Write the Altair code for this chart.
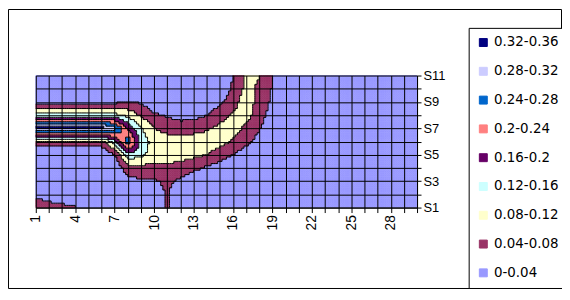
import numpy as np
import pandas as pd
import altair as alt

categories = list(range(1, 31))
series_nums = list(range(1, 12))

# grid values, one list per series (30 categories each)
S11 = [0, 0, 0, 0, 0, 0, 0, 0, 0, 0, 0, 0, 0, 0, 0, 0.04, 0.085, 0.082, 0.04, 0, 0, 0, 0, 0, 0, 0, 0, 0, 0, 0]
S10 = [0, 0, 0, 0, 0, 0, 0, 0, 0, 0, 0, 0, 0, 0, 0.005, 0.048, 0.09, 0.075, 0.037, 0, 0, 0, 0, 0, 0, 0, 0, 0, 0, 0]
S9 = [0.03, 0.03, 0.03, 0.03, 0.03, 0.03, 0.03, 0.042, 0.036, 0.015, 0.005, 0, 0, 0.01, 0.03, 0.065, 0.1, 0.068, 0.03, 0, 0, 0, 0, 0, 0, 0, 0, 0, 0, 0]
S8 = [0.14, 0.14, 0.14, 0.14, 0.14, 0.14, 0.13, 0.11, 0.075, 0.045, 0.035, 0.025, 0.028, 0.038, 0.065, 0.085, 0.095, 0.06, 0.02, 0, 0, 0, 0, 0, 0, 0, 0, 0, 0, 0]
S7 = [0.34, 0.34, 0.34, 0.34, 0.34, 0.34, 0.30, 0.19, 0.125, 0.08, 0.07, 0.06, 0.065, 0.075, 0.09, 0.1, 0.07, 0.043, 0.005, 0, 0, 0, 0, 0, 0, 0, 0, 0, 0, 0]
S6 = [0.06, 0.06, 0.06, 0.06, 0.06, 0.06, 0.15, 0.27, 0.15, 0.1, 0.095, 0.095, 0.1, 0.1, 0.095, 0.075, 0.05, 0.025, 0, 0, 0, 0, 0, 0, 0, 0, 0, 0, 0, 0]
S5 = [0, 0, 0, 0, 0, 0, 0.035, 0.15, 0.13, 0.1, 0.1, 0.095, 0.09, 0.08, 0.06, 0.04, 0.02, 0, 0, 0, 0, 0, 0, 0, 0, 0, 0, 0, 0, 0]
S4 = [0, 0, 0, 0, 0, 0, 0.01, 0.06, 0.065, 0.07, 0.07, 0.065, 0.05, 0.035, 0.02, 0.01, 0, 0, 0, 0, 0, 0, 0, 0, 0, 0, 0, 0, 0, 0]
S3 = [0, 0, 0, 0, 0, 0, 0, 0.025, 0.035, 0.035, 0.05, 0.03, 0.01, 0, 0, 0, 0, 0, 0, 0, 0, 0, 0, 0, 0, 0, 0, 0, 0, 0]
S2 = [0.03, 0.015, 0, 0, 0, 0, 0, 0, 0, 0.01, 0.045, 0, 0, 0, 0, 0, 0, 0, 0, 0, 0, 0, 0, 0, 0, 0, 0, 0, 0, 0]
S1 = [0.065, 0.06, 0.055, 0.045, 0.01, 0, 0, 0, 0, 0, 0.045, 0, 0, 0, 0, 0, 0, 0, 0, 0, 0, 0, 0, 0, 0, 0, 0, 0, 0, 0]

band_labels = ["0-0.04", "0.04-0.08", "0.08-0.12", "0.12-0.16", "0.16-0.2",
               "0.2-0.24", "0.24-0.28", "0.28-0.32", "0.32-0.36"]
band_colors = ["#9999FF", "#993366", "#FFFFCC", "#CCFFFF", "#660066",
               "#FF8080", "#0066CC", "#CCCCFF", "#000080"]
band_step = 0.04

# ---- render the surface as fine cells (bilinear shading of the grid) ----
Z = np.array([S1, S2, S3, S4, S5, S6, S7, S8, S9, S10, S11], dtype=float)
n = 6
nx, ny = (len(categories) - 1) * n, (len(series_nums) - 1) * n
xc = 1 + (np.arange(nx) + 0.5) / n
yc = 1 + (np.arange(ny) + 0.5) / n
XX, YY = np.meshgrid(xc, yc)
j = np.clip(np.floor(XX).astype(int) - 1, 0, len(categories) - 2)
i = np.clip(np.floor(YY).astype(int) - 1, 0, len(series_nums) - 2)
fx = XX - 1 - j
fy = YY - 1 - i
V = (Z[i, j] * (1 - fx) * (1 - fy) + Z[i, j + 1] * fx * (1 - fy)
     + Z[i + 1, j] * (1 - fx) * fy + Z[i + 1, j + 1] * fx * fy)
K = np.clip(np.floor(V / band_step + 1e-9).astype(int), 0, len(band_labels) - 1)

cells = pd.DataFrame({
    "x0": (1 + np.arange(nx) / n)[None, :].repeat(ny, 0).ravel(),
    "x1": (1 + (np.arange(nx) + 1) / n)[None, :].repeat(ny, 0).ravel(),
    "y0": (1 + np.arange(ny) / n)[:, None].repeat(nx, 1).ravel(),
    "y1": (1 + (np.arange(ny) + 1) / n)[:, None].repeat(nx, 1).ravel(),
    "band": [band_labels[k] for k in K.ravel()],
})

edges = []
for r in range(ny):
    for c in range(nx - 1):
        if K[r, c] != K[r, c + 1]:
            xe = 1 + (c + 1) / n
            edges.append((xe, xe, 1 + r / n, 1 + (r + 1) / n))
for r in range(ny - 1):
    for c in range(nx):
        if K[r, c] != K[r + 1, c]:
            ye = 1 + (r + 1) / n
            edges.append((1 + c / n, 1 + (c + 1) / n, ye, ye))
edge_df = pd.DataFrame(edges, columns=["x0", "x1", "y0", "y1"])

dom = band_labels[::-1]
rng = band_colors[::-1]

W, H = 384, 133

x_axis = alt.Axis(values=categories, title=None,
                  labelExpr="(datum.value - 1) % 3 == 0 ? datum.label : ''",
                  labelAngle=270, labelOverlap=False, grid=True,
                  gridColor="black", gridOpacity=1, gridWidth=1,
                  domainColor="black", tickColor="black", tickSize=5,
                  labelPadding=2, labelFont="Liberation Sans",
                  labelFontSize=14, labelColor="black", zindex=1)
y_axis = alt.Axis(orient="right", values=series_nums, title=None,
                  labelExpr="datum.value % 2 == 1 ? 'S' + datum.value : ''",
                  labelOverlap=False, grid=True, gridColor="black",
                  gridOpacity=1, gridWidth=1, domainColor="black",
                  tickColor="black", tickSize=4, labelPadding=2,
                  labelFont="Liberation Sans", labelFontSize=13,
                  labelColor="black", zindex=1)
x_scale = alt.Scale(domain=[1, 30], nice=False, zero=False)
y_scale = alt.Scale(domain=[1, 11], nice=False, zero=False)

surface = alt.Chart(cells).mark_rect(strokeWidth=0.6).encode(
    x=alt.X("x0:Q", scale=x_scale, axis=x_axis), x2="x1:Q",
    y=alt.Y("y0:Q", scale=y_scale, axis=y_axis), y2="y1:Q",
    color=alt.Color("band:N", scale=alt.Scale(domain=dom, range=rng),
                    legend=alt.Legend(title=None, orient="none", legendX=436, legendY=-48,
                                      padding=8, strokeColor="black", fillColor="white",
                                      symbolType="square", symbolSize=64,
                                      symbolStrokeColor="black", symbolStrokeWidth=1,
                                      labelFont="DejaVu Sans", labelFontSize=13.5,
                                      labelColor="black", labelOffset=4, rowPadding=14)),
    stroke=alt.Stroke("band:N", scale=alt.Scale(domain=dom, range=rng), legend=None),
)

contours = alt.Chart(edge_df).mark_rule(color="black", strokeWidth=1).encode(
    x=alt.X("x0:Q", scale=x_scale, axis=x_axis), x2="x1:Q",
    y=alt.Y("y0:Q", scale=y_scale, axis=y_axis), y2="y1:Q")

frame = alt.Chart(pd.DataFrame({"a": [0]})).mark_rect(
    fillOpacity=0, stroke="black", strokeWidth=1).encode(
    x=alt.value(-27.5), x2=alt.value(529.5), y=alt.value(-66.5), y2=alt.value(214.5))

chart = alt.layer(surface, contours, frame).properties(
    width=W, height=H,
    padding={"left": 28, "top": 67, "right": 146, "bottom": 82},
    autosize=alt.AutoSizeParams(type="none"),
).configure_view(stroke="black", strokeWidth=1).configure(background="white")

chart.save("out.html", embed_options={"renderer": "svg", "actions": False})
